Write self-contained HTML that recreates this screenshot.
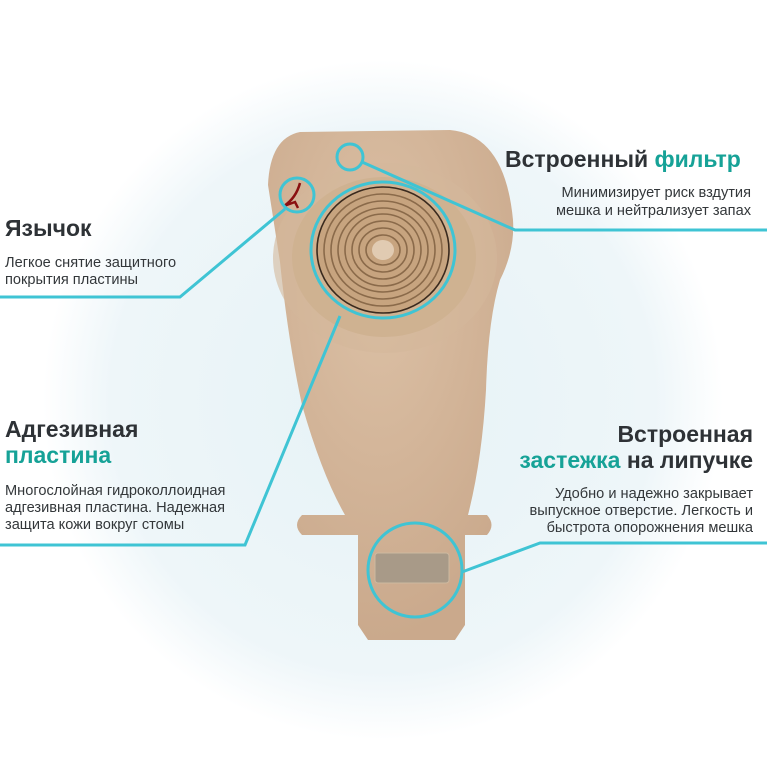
<!DOCTYPE html>
<html><head><meta charset="utf-8"><style>
html,body{margin:0;padding:0;background:#fff}
svg{display:block}
text{font-family:"Liberation Sans","DejaVu Sans",sans-serif}
.h{font-size:23px;font-weight:bold;fill:#2e3236}
.t{fill:#16a297}
.s{font-size:14.6px;fill:#33373a}
</style></head><body>
<svg width="767" height="767" viewBox="0 0 767 767" xmlns="http://www.w3.org/2000/svg">
<defs>
<radialGradient id="bg" cx="0.5" cy="0.5" r="0.5">
<stop offset="0" stop-color="#e6f2f6"/><stop offset="0.8" stop-color="#eef6f9"/><stop offset="1" stop-color="#ffffff"/>
</radialGradient>
<radialGradient id="pg" cx="0.45" cy="0.3" r="0.7">
<stop offset="0" stop-color="#dcc1a6"/><stop offset="1" stop-color="#caa98c"/>
</radialGradient>
</defs>
<rect width="767" height="767" fill="#fff"/>
<circle cx="383" cy="400" r="340" fill="url(#bg)"/>
<!-- pouch -->
<path d="M300,132 Q270,138 268,185 L280,262 Q288,340 302,405 Q322,475 345,515 L302,515 Q292,525 302,535 L358,535 L358,625 L368,640 L455,640 L465,625 L465,535 L487,535 Q496,525 487,515 L468,515 Q482,460 486,390 Q488,320 500,280 Q515,250 513,220 Q505,135 450,130 Z" fill="url(#pg)"/>
<ellipse cx="385" cy="258" rx="112" ry="95" fill="#d4b89b" opacity="0.6"/>
<ellipse cx="384" cy="257" rx="92" ry="80" fill="#cfb291"/>
<!-- spirals -->
<g fill="none" stroke="#8a6a4a" stroke-width="1.6">
<ellipse cx="383" cy="250" rx="66" ry="63" fill="#c7a47f" stroke="#3a2a1e"/>
<ellipse cx="383" cy="250" rx="59" ry="56"/>
<ellipse cx="383" cy="250" rx="52" ry="49"/>
<ellipse cx="383" cy="250" rx="45" ry="42"/>
<ellipse cx="383" cy="250" rx="38" ry="36"/>
<ellipse cx="383" cy="250" rx="31" ry="29"/>
<ellipse cx="383" cy="250" rx="24" ry="22"/>
<ellipse cx="383" cy="250" rx="17" ry="15"/>
</g>
<ellipse cx="383" cy="250" rx="11" ry="10" fill="#e1cbb2"/>
<!-- velcro -->
<rect x="375" y="553" width="74" height="30" rx="3" fill="#a89a88" stroke="#cdb9a0"/>
<!-- tab red -->
<path d="M300,183 Q296,198 284,206 L295,202 L298,208" fill="none" stroke="#8a1010" stroke-width="2.5"/>
<!-- cyan lines/circles -->
<g fill="none" stroke="#3fc4d4" stroke-width="3">
<circle cx="350" cy="157" r="13"/>
<circle cx="297" cy="195" r="17"/>
<ellipse cx="383" cy="250" rx="72" ry="68"/>
<circle cx="415" cy="570" r="47"/>
<polyline points="362,162 515,230 767,230"/>
<polyline points="0,297 180,297 285,209"/>
<polyline points="0,545 245,545 340,316"/>
<polyline points="462,572 540,543 767,543"/>
</g>
<!-- text -->
<text class="h" x="505" y="167">Встроенный <tspan class="t">фильтр</tspan></text>
<text class="s" x="751" y="197" text-anchor="end">Минимизирует риск вздутия</text>
<text class="s" x="751" y="215" text-anchor="end">мешка и нейтрализует запах</text>
<text class="h" x="5" y="236">Язычок</text>
<text class="s" x="5" y="267">Легкое снятие защитного</text>
<text class="s" x="5" y="284">покрытия пластины</text>
<text class="h" x="5" y="437">Адгезивная</text>
<text class="h t" x="5" y="463">пластина</text>
<text class="s" x="5" y="495">Многослойная гидроколлоидная</text>
<text class="s" x="5" y="512">адгезивная пластина. Надежная</text>
<text class="s" x="5" y="529">защита кожи вокруг стомы</text>
<text class="h" x="753" y="442" text-anchor="end">Встроенная</text>
<text class="h" x="753" y="468" text-anchor="end"><tspan class="t">застежка</tspan> на липучке</text>
<text class="s" x="753" y="498" text-anchor="end">Удобно и надежно закрывает</text>
<text class="s" x="753" y="515" text-anchor="end">выпускное отверстие. Легкость и</text>
<text class="s" x="753" y="532" text-anchor="end">быстрота опорожнения мешка</text>
</svg>
</body></html>
